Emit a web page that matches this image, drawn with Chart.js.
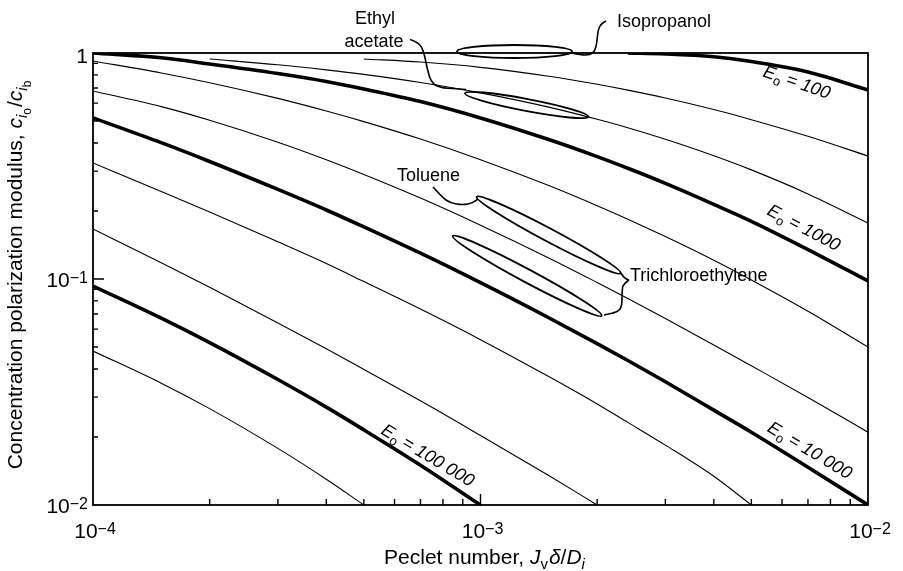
<!DOCTYPE html>
<html>
<head>
<meta charset="utf-8">
<title>Concentration polarization modulus vs Peclet number</title>
<script src="https://cdn.jsdelivr.net/npm/chart.js@4.4.1/dist/chart.umd.min.js"></script>
<style>
    html, body { margin: 0; padding: 0; background: #fff; }
    canvas { display: block; }
</style>
</head>
<body>
<canvas id="cpChart" width="903" height="571"></canvas>
<script>
// Peclet number grid shared by all curves
const PECLET = [1e-4, 1.5e-4, 2e-4, 3e-4, 4e-4, 5e-4, 7e-4, 1e-3, 1.5e-3, 2e-3, 2.4e-3, 3e-3, 4e-3, 5e-3, 7e-3, 1e-2];

// Concentration polarization modulus for each enrichment E_o (null = not drawn)
const MOD_E100    = [null, null, null, null, null, null, null, null, null, null, 1.000, 0.990, 0.962, 0.917, 0.824, 0.686];
const MOD_E200    = [null, null, null, null, null, 0.941, 0.912, 0.864, 0.789, 0.727, 0.685, 0.632, 0.562, 0.507, 0.428, 0.350];
const MOD_E500    = [null, null, 0.941, 0.887, 0.842, 0.804, 0.740, 0.666, 0.576, 0.509, 0.467, 0.415, 0.351, 0.304, 0.238, 0.177];
const MOD_E1000   = [1.000, 0.952, 0.894, 0.811, 0.748, 0.693, 0.610, 0.516, 0.414, 0.348, 0.309, 0.265, 0.214, 0.180, 0.135, 0.098];
const MOD_E2000   = [0.922, 0.816, 0.739, 0.630, 0.554, 0.497, 0.416, 0.337, 0.259, 0.211, 0.184, 0.154, 0.121, 0.099, 0.072, 0.050];
const MOD_E5000   = [0.679, 0.579, 0.504, 0.403, 0.337, 0.290, 0.228, 0.173, 0.124, 0.0965, 0.0820, 0.0669, 0.0511, 0.0413, 0.0299, 0.0210];
const MOD_E10000  = [0.516, 0.401, 0.331, 0.249, 0.202, 0.170, 0.130, 0.0963, 0.0674, 0.0518, 0.0436, 0.0351, 0.0263, 0.0210, 0.0147, 0.0100];
const MOD_E20000  = [0.326, 0.244, 0.198, 0.146, 0.117, 0.0974, 0.0736, 0.0539, 0.0370, 0.0280, 0.0232, 0.0184, 0.0134, 0.0100, null, null];
const MOD_E50000  = [0.1665, 0.118, 0.0919, 0.0639, 0.0491, 0.0398, 0.0289, 0.0203, 0.0135, 0.0100, null, null, null, null, null, null];
const MOD_E100000 = [0.0931, 0.0671, 0.0523, 0.0359, 0.0271, 0.0215, 0.0150, 0.0100, null, null, null, null, null, null, null, null];
const MOD_E200000 = [0.0480, 0.0346, 0.0267, 0.0178, 0.0130, 0.0100, null, null, null, null, null, null, null, null, null, null];

// Axis ticks
const X_MAJOR = [1e-4, 1e-3, 1e-2];
const X_EXP = ['\u22124', '\u22123', '\u22122'];
const Y_MAJOR = [1e-2, 1e-1, 1];
const Y_EXP = ['\u22122', '\u22121', null];

// Curve labels: E_o value, position as [log10 Pe, log10 modulus], text angle in degrees
const E_LABEL_TEXT = ['100', '1000', '10 000', '100 000'];
const E_LABEL_AT = [[-2.1832, -0.1283], [-2.1652, -0.7721], [-2.1497, -1.7566], [-3.1355, -1.7788]];
const E_LABEL_ANGLE = [19, 28, 31, 31];

// Solvent regions: ellipse end points in [log10 Pe, log10 modulus]
const SOLVENT_REGIONS = [
    [[-3.0606, 0.0066], [-2.7639, 0.0066]],     // isopropanol
    [[-3.0400, -0.1783], [-2.7218, -0.2819]],   // ethyl acetate
    [[-3.0098, -0.6358], [-2.6382, -0.9748]],   // toluene
    [[-3.0717, -0.8097], [-2.6872, -1.1624]],   // trichloroethylene
];

// Leader lines from the solvent names to their regions
const LEADERS = [
    [[-2.7639, 0], [-2.7406, -0.0088], [-2.7174, -0.0088], [-2.7045, 0.0088], [-2.6994, 0.0487], [-2.6968, 0.1018], [-2.6890, 0.1283], [-2.6761, 0.1416]],
    [[-3.1819, 0.0597], [-3.1587, 0.0465], [-3.1458, 0.0044], [-3.1381, -0.0664], [-3.1277, -0.1283], [-3.1071, -0.1527], [-3.0606, -0.1593], [-3.0374, -0.1615]],
    [[-3.1226, -0.5929], [-3.0994, -0.6372], [-3.0787, -0.6637], [-3.0452, -0.6726], [-3.0194, -0.6637], [-3.0065, -0.6460]],
    [[-2.6400, -0.9690], [-2.6297, -0.9956], [-2.6168, -1.0044]],
    [[-2.6168, -1.0044], [-2.6323, -1.0221], [-2.6348, -1.0575], [-2.6348, -1.1195], [-2.6452, -1.1460], [-2.6813, -1.1593]],
];

const SOLVENT_NAMES = ['Isopropanol', 'Ethyl', 'acetate', 'Toluene', 'Trichloroethylene'];
const SOLVENT_NAME_AT = [[-2.6477, 0.146], [-3.2723, 0.157], [-3.2748, 0.0575], [-3.1342, -0.5398], [-2.6142, -0.9823]];
const SOLVENT_NAME_ALIGN = ['left', 'center', 'center', 'center', 'left'];

const FONT = '"Liberation Sans", Arial, Helvetica, sans-serif';
const INK = '#000';

function font(size, italic) {
    return (italic ? 'italic ' : '') + size + 'px ' + FONT;
}

// segments: [text, size, italic, dy, extraGap]
function richWidth(ctx, segs) {
    let w = 0;
    segs.forEach(s => {
        ctx.font = font(s[1], s[2]);
        w += ctx.measureText(s[0]).width + (s[4] || 0);
    });
    return w;
}

function drawRich(ctx, segs, x, y, align) {
    const w = richWidth(ctx, segs);
    let cx = align === 'center' ? x - w / 2 : align === 'right' ? x - w : x;
    ctx.textAlign = 'left';
    ctx.textBaseline = 'alphabetic';
    segs.forEach(s => {
        ctx.font = font(s[1], s[2]);
        ctx.fillText(s[0], cx, y + (s[3] || 0));
        cx += ctx.measureText(s[0]).width + (s[4] || 0);
    });
}

function smoothPath(ctx, pts) {
    ctx.beginPath();
    ctx.moveTo(pts[0].x, pts[0].y);
    for (let i = 1; i < pts.length - 1; i++) {
        const mx = (pts[i].x + pts[i + 1].x) / 2;
        const my = (pts[i].y + pts[i + 1].y) / 2;
        ctx.quadraticCurveTo(pts[i].x, pts[i].y, mx, my);
    }
    const last = pts[pts.length - 1];
    ctx.lineTo(last.x, last.y);
    ctx.stroke();
}

// Frame, ticks, axis labels and annotations
const decorations = {
    id: 'decorations',
    afterDatasetsDraw(chart) {
        const { ctx, chartArea: a, scales: { x, y } } = chart;
        const at = p => ({
            x: x.getPixelForValue(Math.pow(10, p[0])),
            y: y.getPixelForValue(Math.pow(10, p[1])),
        });

        ctx.save();
        ctx.strokeStyle = INK;
        ctx.fillStyle = INK;
        ctx.lineCap = 'butt';

        // frame
        ctx.lineWidth = 1.8;
        ctx.strokeRect(a.left, a.top, a.right - a.left, a.bottom - a.top);

        // ticks
        ctx.lineWidth = 1.4;
        ctx.beginPath();
        [-4, -3].forEach(d => {
            for (let m = 2; m <= 9; m++) {
                const px = x.getPixelForValue(m * Math.pow(10, d));
                ctx.moveTo(px, a.bottom);
                ctx.lineTo(px, a.bottom - 6);
            }
        });
        const xm = x.getPixelForValue(1e-3);
        ctx.moveTo(xm, a.bottom + 1);
        ctx.lineTo(xm, a.bottom - 11);
        [-2, -1].forEach(d => {
            for (let m = 2; m <= 9; m++) {
                const py = y.getPixelForValue(m * Math.pow(10, d));
                ctx.moveTo(a.left, py);
                ctx.lineTo(a.left + 5, py);
            }
        });
        const ym = y.getPixelForValue(1e-1);
        ctx.moveTo(a.left, ym);
        ctx.lineTo(a.left + 11, ym);
        ctx.stroke();

        // tick labels
        X_MAJOR.forEach((v, i) => {
            drawRich(ctx, [['10', 21, false], [X_EXP[i], 16, false, -4]], x.getPixelForValue(v) + 2, a.bottom + 33, 'center');
        });
        Y_MAJOR.forEach((v, i) => {
            const py = y.getPixelForValue(v);
            const segs = Y_EXP[i] ? [['10', 21, false], [Y_EXP[i], 16, false, -4]] : [['1', 21, false]];
            drawRich(ctx, segs, a.left - 5, py + 8 + (Y_EXP[i] ? 0 : 2), 'right');
        });

        // axis titles
        drawRich(ctx, [
            ['Peclet number, ', 21, false],
            ['J', 21, true], ['v', 15, false, 5, 1],
            ['\u03b4', 21, true], ['/', 21, false], ['D', 21, true], ['i', 15, true, 5],
        ], (a.left + a.right) / 2 + 4, a.bottom + 59, 'center');

        ctx.save();
        ctx.translate(22, (a.top + a.bottom) / 2 - 4);
        ctx.rotate(-Math.PI / 2);
        drawRich(ctx, [
            ['Concentration polarization modulus, ', 21, false],
            ['c', 21, true], ['i', 15, true, 5], ['o', 12, false, 9, 1],
            ['/', 21, false],
            ['c', 21, true], ['i', 15, true, 5], ['b', 12, false, 9],
        ], 0, 0, 'center');
        ctx.restore();

        // E_o labels along the curves
        E_LABEL_TEXT.forEach((t, i) => {
            const p = at(E_LABEL_AT[i]);
            ctx.save();
            ctx.translate(p.x, p.y);
            ctx.rotate(E_LABEL_ANGLE[i] * Math.PI / 180);
            drawRich(ctx, [['E', 18, true], ['o', 13, false, 4], [' = ' + t, 18, true]], 0, 6, 'center');
            ctx.restore();
        });

        // solvent regions
        ctx.lineWidth = 1.9;
        SOLVENT_REGIONS.forEach((r, i) => {
            const p1 = at(r[0]);
            const p2 = at(r[1]);
            const cx = (p1.x + p2.x) / 2;
            const cy = (p1.y + p2.y) / 2;
            const rx = Math.hypot(p2.x - p1.x, p2.y - p1.y) / 2;
            const ang = Math.atan2(p2.y - p1.y, p2.x - p1.x);
            ctx.beginPath();
            ctx.ellipse(cx, cy, rx, i === 1 ? 6 : 6.5, ang, 0, Math.PI * 2);
            ctx.stroke();
        });

        ctx.lineWidth = 1.6;
        ctx.lineJoin = 'round';
        LEADERS.forEach(l => smoothPath(ctx, l.map(at)));

        SOLVENT_NAMES.forEach((n, i) => {
            const p = at(SOLVENT_NAME_AT[i]);
            drawRich(ctx, [[n, 18, false]], p.x, p.y + 6.5, SOLVENT_NAME_ALIGN[i]);
        });

        ctx.restore();
    }
};

const CURVES = [
    [MOD_E100, true], [MOD_E200, false], [MOD_E500, false],
    [MOD_E1000, true], [MOD_E2000, false], [MOD_E5000, false],
    [MOD_E10000, true], [MOD_E20000, false], [MOD_E50000, false],
    [MOD_E100000, true], [MOD_E200000, false],
];

const datasets = CURVES.map(([values, heavy]) => ({
    data: PECLET.map((pe, i) => ({ x: pe, y: values[i] })).filter(p => p.y !== null),
    borderColor: INK,
    borderWidth: heavy ? 3.6 : 1.1,
    pointRadius: 0,
    fill: false,
    cubicInterpolationMode: 'monotone',
}));

new Chart(document.getElementById('cpChart').getContext('2d'), {
    type: 'line',
    data: { datasets },
    options: {
        responsive: false,
        animation: false,
        layout: { padding: { left: 93, right: 35, top: 53, bottom: 66 } },
        scales: {
            x: { type: 'logarithmic', min: 1e-4, max: 1e-2, display: false },
            y: { type: 'logarithmic', min: 0.01, max: 1, display: false },
        },
        plugins: {
            legend: { display: false },
            tooltip: { enabled: false },
        },
    },
    plugins: [decorations],
});
</script>
</body>
</html>
